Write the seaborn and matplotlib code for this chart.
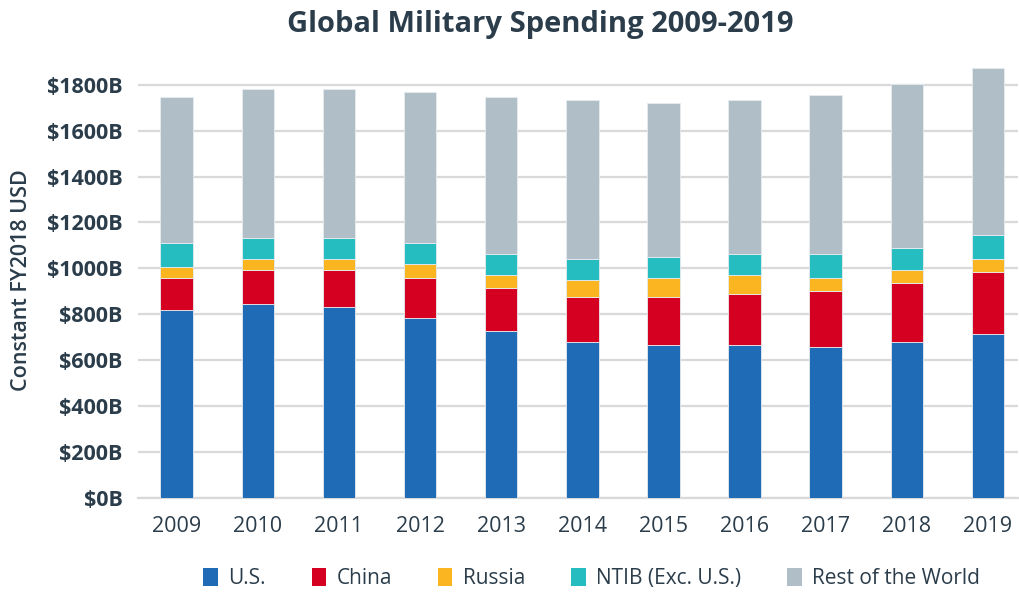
import matplotlib
matplotlib.use("Agg")
import matplotlib.pyplot as plt
import seaborn as sns
import numpy as np
import pandas as pd
from matplotlib.patches import Patch

years = ["2009", "2010", "2011", "2012", "2013", "2014", "2015", "2016", "2017", "2018", "2019"]
us = [819, 843, 830, 782, 726, 678, 666, 666, 656, 678, 713]
china = [140, 151, 164, 177, 186, 199, 211, 223, 244, 257, 270]
russia = [47, 47, 47, 60, 59, 71, 82, 82, 59, 59, 58]
ntib = [106, 93, 93, 93, 93, 93, 92, 93, 105, 93, 106]
rest = [633, 646, 646, 656, 681, 692, 671, 669, 693, 716, 727]

series_names = ["U.S.", "China", "Russia", "NTIB (Exc. U.S.)", "Rest of the World"]
series_vals = [us, china, russia, ntib, rest]
colors = ["#1f6bb5", "#d50021", "#fbb520", "#25bdbf", "#b0bec8"]
yticks = [0, 200, 400, 600, 800, 1000, 1200, 1400, 1600, 1800]

sns.set_theme(style="white")
plt.rcParams["font.family"] = ["Open Sans", "DejaVu Sans"]
text_color = "#2b3d4b"

fig = plt.figure(figsize=(10.2, 5.94), dpi=100)
ax = fig.add_axes([0.135, 0.162, 0.863, 0.734])

bottom = np.zeros(len(years))
for name, vals, c in zip(series_names, series_vals, colors):
    df = pd.DataFrame({"year": years, "value": vals})
    sns.barplot(data=df, x="year", y="value", bottom=bottom, color=c, width=0.4,
                saturation=1, ax=ax, edgecolor="#e6ecf0", linewidth=0.6, zorder=3)
    bottom = bottom + np.array(vals)

ax.set_xlim(-0.48, 10.37)
ax.set_ylim(0, 1900)
ax.set_yticks(yticks)
ax.set_yticklabels([f"${v}B" for v in yticks], fontsize=15.5, fontweight="bold", color=text_color)
ax.tick_params(axis="x", labelsize=15.5, labelcolor=text_color, pad=13, length=0)
ax.tick_params(axis="y", pad=11, length=0)
ax.yaxis.grid(True, color="#d9d9d9", linewidth=1.6, zorder=0)
ax.set_axisbelow(True)
for s in ["top", "right", "left"]:
    ax.spines[s].set_visible(False)
ax.spines["bottom"].set_color("#d9d9d9")
ax.spines["bottom"].set_linewidth(1.6)
ax.set_xlabel("")
ax.set_ylabel("Constant FY2018 USD", fontsize=15.5, fontweight="semibold", color=text_color)
ax.yaxis.set_label_coords(-0.120, 0.5)

fig.text(0.53, 0.958, "Global Military Spending 2009-2019", ha="center", va="center",
         fontsize=21, fontweight="bold", color=text_color)

handles = [Patch(facecolor=c, edgecolor="none") for c in colors]
fig.legend(handles, series_names, loc="center", bbox_to_anchor=(0.58, 0.026), ncol=5,
           frameon=False, fontsize=15, handlelength=0.7, handleheight=0.9,
           handletextpad=0.5, columnspacing=2.2, labelcolor=text_color)

fig.savefig("out.png", dpi=100)
